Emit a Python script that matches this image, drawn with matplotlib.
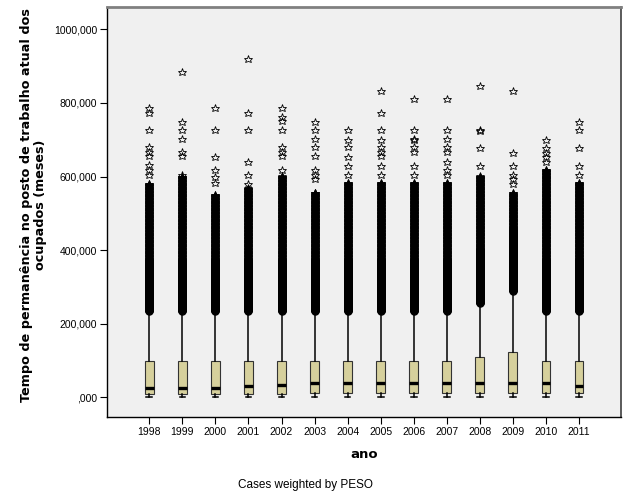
import matplotlib
matplotlib.use("Agg")
import matplotlib.pyplot as plt
import numpy as np

# ── dados (meses) ───────────────────────────────────────────────
anos = ["1998", "1999", "2000", "2001", "2002", "2003", "2004",
        "2005", "2006", "2007", "2008", "2009", "2010", "2011"]
whis_lo = [1, 1, 1, 1, 1, 1, 1, 1, 1, 1, 1, 1, 1, 1]
q1      = [8, 8, 8, 8, 9, 10, 10, 10, 10, 10, 11, 12, 12, 12]
mediana = [26, 26, 26, 30, 33, 38, 38, 38, 38, 38, 38, 39, 39, 30]
q3      = [99, 99, 99, 99, 99, 99, 99, 99, 99, 99, 109, 123, 99, 99]
whis_hi = [234, 234, 234, 234, 234, 234, 234, 234, 234, 234, 256, 289, 234, 234]
# limite dos valores extremos (estrelas) e topo da coluna densa
limite_ext = [372, 372, 372, 372, 372, 372, 372, 372, 372, 372, 403, 456, 372, 372]
topo_denso = [580, 600, 550, 568, 601, 556, 583, 583, 583, 583, 601, 555, 618, 583]
# estrelas isoladas acima da coluna densa
extremos = [
    [786, 774, 727, 680, 668, 656, 631, 618, 604],
    [883, 749, 727, 701, 668, 656, 604],
    [786, 727, 654, 618, 599, 582],
    [919, 774, 727, 640, 604, 580],
    [786, 763, 751, 727, 680, 668, 656, 618],
    [749, 727, 701, 680, 656, 618, 604, 592],
    [727, 698, 680, 654, 629, 604],
    [833, 774, 727, 698, 680, 668, 656, 629, 604],
    [810, 727, 701, 698, 680, 668, 629, 604],
    [810, 727, 701, 680, 668, 640, 618, 604],
    [846, 727, 724, 677, 629],
    [833, 665, 629, 604, 592, 580],
    [698, 677, 665, 654, 640],
    [749, 727, 677, 629, 604],
]
y_ticks = [0, 200, 400, 600, 800, 1000]
y_labels = [",000", "200,000", "400,000", "600,000", "800,000", "1000,000"]

BOX = "#D6D09C"
BG = "#F0F0F0"
plt.rcParams["font.family"] = ["Liberation Sans", "DejaVu Sans"]

fig = plt.figure(figsize=(6.29, 5.04), dpi=100)
ax = fig.add_axes([0.1701, 0.1726, 0.8172, 0.8135])
ax.set_facecolor(BG)

pos = np.arange(len(anos))
stats = []
for i in range(len(anos)):
    stats.append(dict(whislo=whis_lo[i], q1=q1[i], med=mediana[i], q3=q3[i],
                      whishi=whis_hi[i], fliers=[]))
ax.bxp(stats, positions=pos, widths=0.27, capwidths=0.17, patch_artist=True,
       showfliers=False,
       boxprops=dict(facecolor=BOX, edgecolor="#333333", linewidth=0.8),
       medianprops=dict(color="black", linewidth=2.4),
       whiskerprops=dict(color="black", linewidth=1.1),
       capprops=dict(color="black", linewidth=1.1))

for i, p in enumerate(pos):
    # valores inteiros de meses: coluna densa de outliers e extremos
    circ = np.arange(whis_hi[i] + 1, limite_ext[i] + 1)
    est = np.concatenate([np.arange(limite_ext[i] + 1, topo_denso[i] + 1),
                          extremos[i]])
    ax.plot(np.full(len(circ), p), circ, "o", ms=5.2, mfc="none",
            mec="black", mew=0.9, zorder=3)
    ax.plot(np.full(len(est), p), est, "*", ms=6.2, mfc="none",
            mec="black", mew=0.6, zorder=3)

ax.set_xlim(-1.28, 14.27)
ax.set_ylim(-54, 1061)
ax.set_xticks(pos)
ax.set_xticklabels(anos)
ax.set_yticks(y_ticks)
ax.set_yticklabels(y_labels)
ax.tick_params(labelsize=7.5, length=5, width=0.8, pad=2)

ax.spines["top"].set_color("#808080")
ax.spines["top"].set_linewidth(2)
ax.spines["right"].set_color("#404040")
ax.spines["right"].set_linewidth(1.2)
ax.spines["left"].set_linewidth(1)
ax.spines["bottom"].set_linewidth(1)

ax.set_xlabel("ano", fontsize=9.5, fontweight="bold", family="DejaVu Sans",
              labelpad=8)
ax.set_ylabel("Tempo de permanência no posto de trabalho atual dos\nocupados (meses)",
              fontsize=9.2, fontweight="bold", family="DejaVu Sans",
              linespacing=1.1)
ax.yaxis.set_label_coords(-0.117, 0.517)
fig.text(0.485, 0.037, "Cases weighted by PESO", ha="center", va="center",
         fontsize=8.5)

fig.savefig("out.png", dpi=100)
